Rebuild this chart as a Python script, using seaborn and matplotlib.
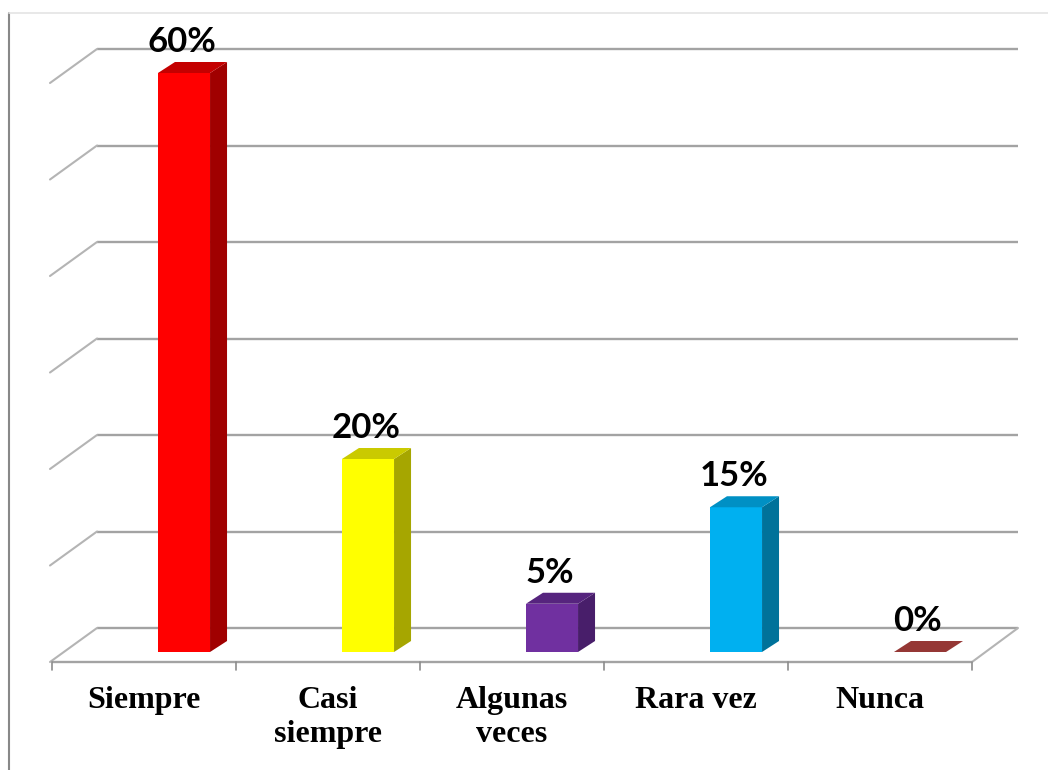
import numpy as np
import pandas as pd
import seaborn as sns
import matplotlib.pyplot as plt
from matplotlib.patches import Polygon
from matplotlib.lines import Line2D

# data
categorias = ["Siempre", "Casi\nsiempre", "Algunas\nveces", "Rara vez", "Nunca"]
porcentajes = [60, 20, 5, 15, 0]
etiquetas = ["60%", "20%", "5%", "15%", "0%"]

# colours: front / top / side
frente = ["#FF0000", "#FFFF00", "#7030A0", "#00B0F0", "#953735"]
arriba = ["#C40000", "#CACA00", "#56247E", "#0090C4", "#953735"]
lado = ["#A00000", "#A6A600", "#481E6A", "#00729A", "#7A2C2A"]

df = pd.DataFrame({"cat": categorias, "pct": porcentajes})

sns.set_style("white")
fig = plt.figure(figsize=(10.48, 7.7), dpi=100)
W, H = 1048, 770

# front plane of the bars: 0 at y=652px, 60 at y=73px, x from 92 to 1012px
ax = fig.add_axes([92 / W, (H - 652) / H, 920 / W, 579 / H])
ax.set_xlim(-0.5, 4.5)
ax.set_ylim(0, 60)
ax.axis("off")

pxx = 920 / 5      # pixels per category
pxy = 579 / 60     # pixels per percent


def dx(p):
    return p / pxx


def dy(p):
    return p / pxy


grid_col = "#A3A3A3"
diag_col = "#B4B4B4"

# back wall gridlines and left side diagonals
for v in range(0, 61, 10):
    xb0, xb1 = -0.5 + dx(5), 4.5 + dx(6)
    yb = v + dy(24)
    ax.plot([xb0, xb1], [yb, yb], color=grid_col, lw=1.7, zorder=1, clip_on=False,
            solid_capstyle="butt")
    ax.plot([-0.5 - dx(42), xb0], [v - dy(10), yb], color=diag_col, lw=1.5,
            zorder=1, clip_on=False)

# floor front edge, right edge and ticks
yf = -dy(10)
ax.plot([-0.5 - dx(40), 4.5 - dx(40)], [yf, yf], color=grid_col, lw=1.7,
        zorder=1, clip_on=False, solid_capstyle="butt")
ax.plot([4.5 - dx(40), 4.5 + dx(6)], [yf, dy(24)], color=diag_col, lw=1.5,
        zorder=1, clip_on=False)
for k in range(6):
    xt = -0.5 - dx(40) + k
    ax.plot([xt, xt], [yf, yf - dy(8)], color="#8C8C8C", lw=1.2, zorder=1,
            clip_on=False)

# front faces of the bars
sns.barplot(data=df, x="cat", y="pct", hue="cat", palette=frente, width=0.283,
            saturation=1, legend=False, linewidth=0, ax=ax, zorder=3)
ax.set_xlim(-0.5, 4.5)
ax.set_ylim(0, 60)
ax.axis("off")

# 3d faces
ox, oy = dx(17), dy(11)
for i, cont in enumerate(ax.containers):
    for bar in cont:
        x0 = bar.get_x()
        x1 = x0 + bar.get_width()
        h = bar.get_height()
        if h > 0:
            ax.add_patch(Polygon([(x1, 0), (x1 + ox, oy), (x1 + ox, h + oy), (x1, h)],
                                 closed=True, facecolor=lado[i], edgecolor="none",
                                 zorder=3, clip_on=False))
        ax.add_patch(Polygon([(x0, h), (x1, h), (x1 + ox, h + oy), (x0 + ox, h + oy)],
                             closed=True, facecolor=arriba[i], edgecolor="none",
                             zorder=3, clip_on=False))

# value labels
for i, v in enumerate(porcentajes):
    ax.text(i - dx(2), v + dy(21), etiquetas[i], ha="center", va="baseline",
            fontsize=25, fontweight="bold", family="Lato", color="black",
            zorder=5, clip_on=False)

# category labels
for i, c in enumerate(categorias):
    ax.text(i - dx(40), -dy(34), c, ha="center", va="top", fontsize=23,
            fontweight="bold", family="Liberation Serif", linespacing=1.24,
            color="black", clip_on=False)

# chart area border
fig.add_artist(Line2D([9 / W, 9 / W], [0, (H - 13) / H], color="#888888", lw=1.5))
fig.add_artist(Line2D([9 / W, 1], [(H - 13) / H, (H - 13) / H], color="#E4E4E4",
                      lw=1.2))

fig.savefig("out.png", dpi=100)
